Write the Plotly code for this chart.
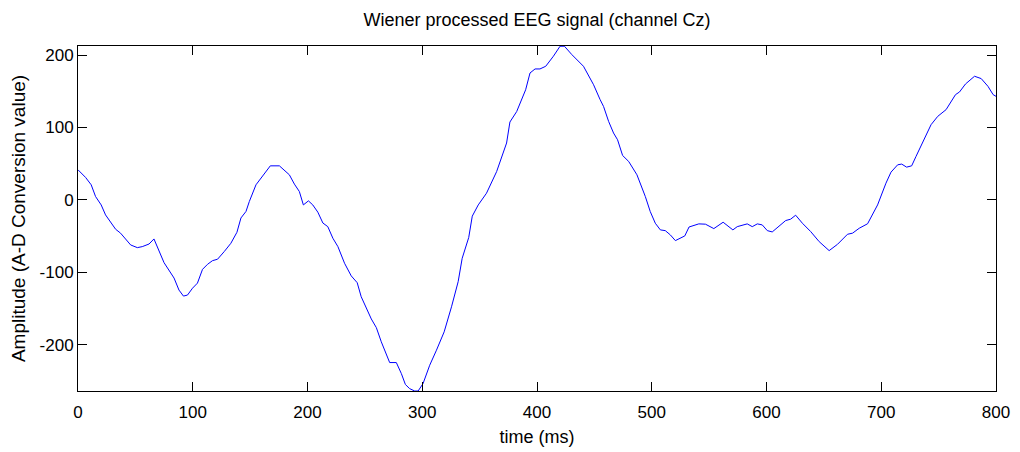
import plotly.graph_objects as go

time_ms = [0, 6.6, 11.5, 15.3, 20.2, 24, 32.8, 37.1, 45.9, 51.7, 56, 61.9, 66.2, 75, 83.7, 88, 91.9, 95.4,
           99.8, 104.1, 108.5, 112.9, 117.2, 121.6, 127.4, 133.2, 138.5, 142, 146.4, 149.3, 155.1, 160.9,
           167.6, 175.5, 184.2, 188.6, 192.9, 196.4, 200.8, 204.6, 209, 213.4, 217.7, 222.1, 226.5, 232.3,
           238.1, 243.3, 246.8, 255.6, 260, 264.3, 268.7, 271.6, 277.4, 281.8, 285.3, 289, 293.4, 296.4,
           300.7, 306.5, 312.4, 319.1, 325.5, 331.3, 334.8, 340.5, 343.6, 348.8, 356, 364.8, 373.5, 376.4,
           382.3, 390.1, 393.9, 398.3, 402.6, 407.6, 414.3, 420.1, 423.9, 430.3, 440.5, 449.3, 455, 458,
           462.4, 466.7, 470.2, 474.6, 479.9, 487.1, 494.4, 498.7, 503.1, 507.5, 511.8, 516.2, 520.6, 528.8,
           532.5, 541, 546.8, 554.1, 562.2, 570.7, 574.5, 583.2, 587.6, 592, 596.3, 600.7, 605, 610.9,
           616.7, 621, 625.4, 631.3, 638.5, 645.9, 654.6, 661.9, 670.6, 675, 680.8, 688.1, 693.9, 696.8,
           704.1, 708.5, 714.3, 717.8, 722.1, 726.5, 730.3, 736.7, 743.4, 749.2, 756.5, 764.7, 768.2, 773.4,
           781.3, 787.1, 793, 797.5, 800]
amplitude = [41.5, 31, 20.8, 4.6, -7, -20.8, -40.6, -46, -62.3, -66, -64.6, -61, -54, -86.8, -108, -124.6,
             -132.9, -131.5, -122, -115, -96, -89, -84, -82, -71.5, -60, -44.8, -25, -16, -2.3, 20.8, 32.3,
             47, 47, 34.6, 21.7, 11.5, -7, -1.4, -7, -17, -32, -37, -53, -64.6, -87.6, -105, -114.4, -133.8,
             -164.5, -176.5, -196, -212, -224.7, -224.7, -240, -255, -260.7, -264, -264, -253.7, -228.4,
             -207.6, -182.3, -147.7, -113, -80.7, -52, -22.5, -7, 9.2, 39, 78.5, 107.5, 122, 152, 175.2,
             180.8, 180.8, 184.5, 198.4, 212.2, 212.2, 200.7, 184.5, 159, 138.4, 129, 108.4, 92.3, 83, 61.3,
             53, 34.6, 4.6, -16.2, -32.3, -41.5, -42.5, -48.4, -56.3, -49.8, -37.5, -33.2, -33.6, -39.7,
             -30.9, -41.5, -37, -33.2, -37, -33.2, -34.6, -42.5, -44.3, -37, -28.6, -26.7, -21.2, -32.3,
             -43.8, -57.7, -70.1, -61.4, -47.5, -46, -39.2, -33, -16.2, -7, 23, 38.3, 48.4, 49.4, 45.2, 47,
             60, 80.7, 103.8, 115.3, 124.6, 145.3, 149, 160, 170.7, 167.5, 156.8, 145.3, 143]

x_ticks = [0, 100, 200, 300, 400, 500, 600, 700, 800]
y_ticks = [-200, -100, 0, 100, 200]

FONT = "Liberation Sans, Arial, sans-serif"

fig = go.Figure()
fig.add_trace(go.Scatter(x=time_ms, y=amplitude, mode="lines",
                         line=dict(color="#0000ff", width=1), showlegend=False, hoverinfo="skip"))

axis_common = dict(showgrid=False, zeroline=False, showline=True, linecolor="black", linewidth=1,
                   mirror="ticks", ticks="inside", ticklen=9, tickcolor="black", tickwidth=1,
                   automargin=False,
                   tickfont=dict(family=FONT, size=17, color="black"))

fig.update_xaxes(range=[0, 800], tickvals=x_ticks, ticktext=[str(v) for v in x_ticks],
                 ticklabelstandoff=6,
                 title=dict(text="time (ms)", font=dict(family=FONT, size=18, color="black"), standoff=8),
                 **axis_common)
fig.update_yaxes(range=[-264, 212.5], tickvals=y_ticks, ticktext=[str(v) for v in y_ticks],
                 title=dict(text="Amplitude (A-D Conversion value)", font=dict(family=FONT, size=19, color="black"), standoff=9),
                 **axis_common)

# page body has an 8px margin, so the figure is sized/offset to match the reference window
fig.update_layout(
    width=1012, height=444,
    margin=dict(l=70, r=24, t=38, b=61, autoexpand=False),
    paper_bgcolor="white", plot_bgcolor="white",
    title=dict(text="Wiener processed EEG signal (channel Cz)", x=(537 - 8) / 1012, xanchor="center",
               y=1 - 12 / 444, yanchor="middle", font=dict(family=FONT, size=18, color="black")),
)

fig.write_html("out.html")
